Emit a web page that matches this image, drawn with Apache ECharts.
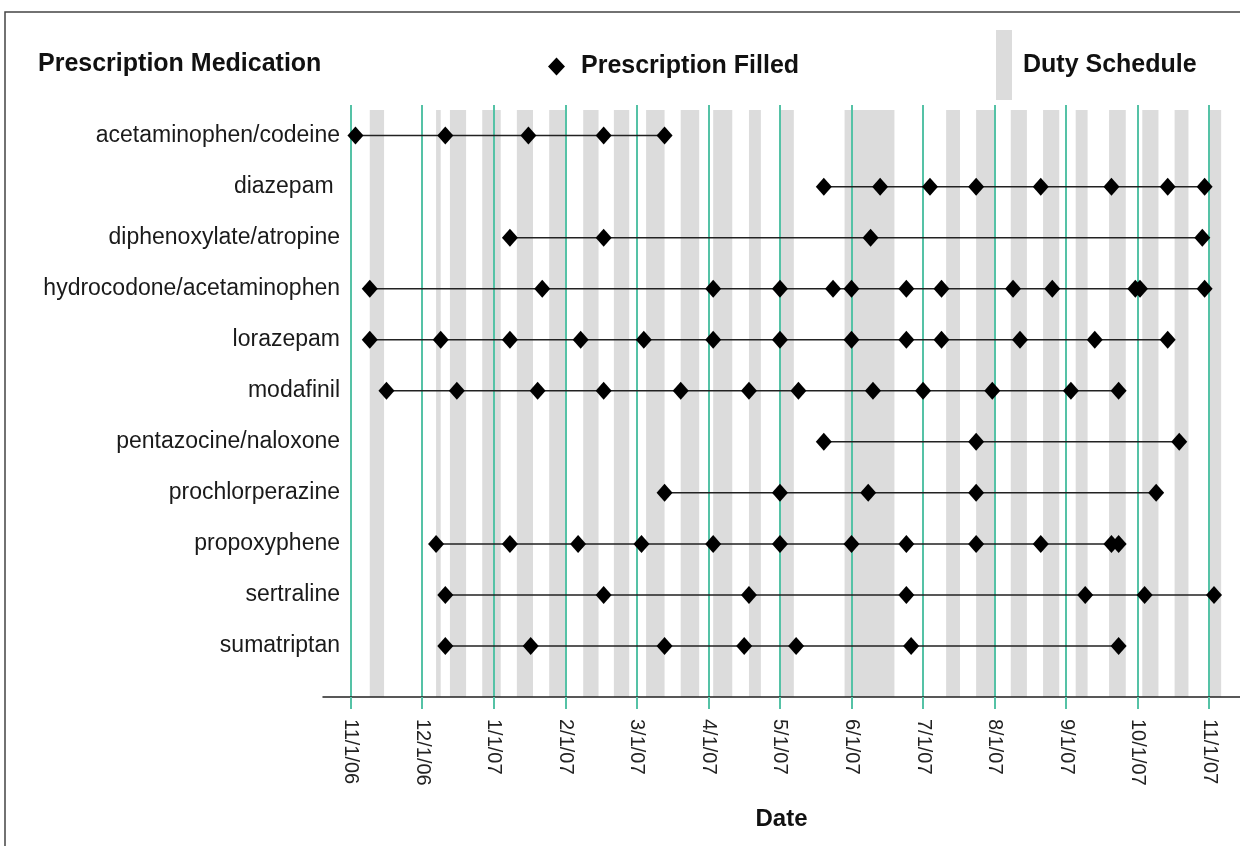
<!DOCTYPE html>
<html><head><meta charset="utf-8">
<script src="https://cdn.jsdelivr.net/npm/echarts@6/dist/echarts.min.js"></script>
<style>html,body{margin:0;padding:0;background:#fff}#c{width:1240px;height:846px}</style>
</head><body><div id="c"></div>
<script>
// ---- data ----
const medications = ['acetaminophen/codeine','diazepam ','diphenoxylate/atropine','hydrocodone/acetaminophen','lorazepam','modafinil','pentazocine/naloxone','prochlorperazine','propoxyphene','sertraline','sumatriptan'];
const tickLabels = ['11/1/06','12/1/06','1/1/07','2/1/07','3/1/07','4/1/07','5/1/07','6/1/07','7/1/07','8/1/07','9/1/07','10/1/07','11/1/07'];

const acetaminophenCodeine = ['2006-11-03','2006-12-11','2007-01-16','2007-02-16','2007-03-13'];
const diazepam = ['2007-05-20','2007-06-13','2007-07-04','2007-07-24','2007-08-21','2007-09-20','2007-10-14','2007-10-30'];
const diphenoxylateAtropine = ['2007-01-08','2007-02-16','2007-06-09','2007-10-29'];
const hydrocodoneAcetaminophen = ['2006-11-09','2007-01-22','2007-04-03','2007-05-01','2007-05-24','2007-06-01','2007-06-24','2007-07-09','2007-08-09','2007-08-26','2007-09-30','2007-10-02','2007-10-30'];
const lorazepam = ['2006-11-09','2006-12-09','2007-01-08','2007-02-07','2007-03-04','2007-04-03','2007-05-01','2007-06-01','2007-06-24','2007-07-09','2007-08-12','2007-09-13','2007-10-14'];
const modafinil = ['2006-11-16','2006-12-16','2007-01-20','2007-02-16','2007-03-20','2007-04-18','2007-05-09','2007-06-10','2007-07-01','2007-07-31','2007-09-03','2007-09-23'];
const pentazocineNaloxone = ['2007-05-20','2007-07-24','2007-10-19'];
const prochlorperazine = ['2007-03-13','2007-05-01','2007-06-08','2007-07-24','2007-10-09'];
const propoxyphene = ['2006-12-07','2007-01-08','2007-02-06','2007-03-03','2007-04-03','2007-05-01','2007-06-01','2007-06-24','2007-07-24','2007-08-21','2007-09-20','2007-09-23'];
const sertraline = ['2006-12-11','2007-02-16','2007-04-18','2007-06-24','2007-09-09','2007-10-04','2007-11-03'];
const sumatriptan = ['2006-12-11','2007-01-17','2007-03-13','2007-04-16','2007-05-08','2007-06-26','2007-09-23'];

const dutyStart = ['2006-11-09','2006-12-07','2006-12-13','2006-12-27','2007-01-11','2007-01-25','2007-02-08','2007-02-20','2007-03-05','2007-03-20','2007-04-03','2007-04-18','2007-05-01','2007-05-29','2007-07-11','2007-07-24','2007-08-08','2007-08-22','2007-09-05','2007-09-19','2007-10-03','2007-10-17','2007-11-01'];
const dutyEnd   = ['2006-11-15','2006-12-09','2006-12-20','2007-01-04','2007-01-18','2007-02-01','2007-02-14','2007-02-26','2007-03-13','2007-03-28','2007-04-11','2007-04-23','2007-05-07','2007-06-19','2007-07-17','2007-08-01','2007-08-15','2007-08-29','2007-09-10','2007-09-26','2007-10-10','2007-10-23','2007-11-06'];

const fills = [acetaminophenCodeine, diazepam, diphenoxylateAtropine, hydrocodoneAcetaminophen, lorazepam, modafinil, pentazocineNaloxone, prochlorperazine, propoxyphene, sertraline, sumatriptan];

// ---- scale helper: months since Nov 1, 2006 (each month equal width) ----
function toM(s){
  const p = s.split('-').map(Number);
  const dim = new Date(Date.UTC(p[0], p[1], 0)).getUTCDate();
  return (p[0]-2006)*12 + (p[1]-11) + (p[2]-1)/dim;
}

const GREEN = '#55c2a6';
const FONT = '"Liberation Sans", Arial, sans-serif';
const Y_MIN = -0.6, Y_MAX = 11;
const monthTicks = tickLabels.map((_, i) => i);
const rowTicks = medications.map((_, i) => i);

const chart = echarts.init(document.getElementById('c'), null, {renderer: 'canvas'});

const series = [{
  type: 'custom',
  name: 'Duty Schedule',
  silent: true,
  clip: true,
  z: 1,
  itemStyle: {color: '#dcdcdc'},
  encode: {x: [0, 1]},
  data: dutyStart.map((s, i) => [toM(s), toM(dutyEnd[i])]),
  renderItem: function (params, api) {
    const a = api.coord([api.value(0), -0.5]);
    const b = api.coord([api.value(1), Y_MAX]);
    return {
      type: 'rect',
      shape: {x: a[0], y: Math.min(a[1], b[1]), width: b[0] - a[0], height: Math.abs(b[1] - a[1])},
      style: {fill: '#dcdcdc'}
    };
  }
}];

fills.forEach((dates, i) => {
  series.push({
    type: 'line',
    name: 'Prescription Filled',
    z: 5,
    silent: true,
    symbol: 'diamond',
    symbolSize: [16, 18],
    showAllSymbol: true,
    itemStyle: {color: '#000'},
    lineStyle: {color: '#222', width: 1.5},
    data: dates.map(d => [toM(d), i])
  });
});

const headStyle = {fontSize: 25, fontWeight: 'bold', color: '#111', fontFamily: FONT};

chart.setOption({
  animation: false,
  backgroundColor: '#fff',
  textStyle: {fontFamily: FONT},
  title: {
    text: 'Prescription Medication', left: 38, top: 50, padding: 0,
    textStyle: Object.assign({lineHeight: 28}, headStyle)
  },
  legend: [{
    data: [{name: 'Prescription Filled', icon: 'diamond'}],
    left: 548, top: 54, padding: 0, itemWidth: 17, itemHeight: 18, selectedMode: false,
    textStyle: Object.assign({padding: [0, 0, 0, 11]}, headStyle)
  }, {
    data: [{name: 'Duty Schedule', icon: 'rect'}],
    left: 996, top: 30, padding: 0, itemWidth: 16, itemHeight: 70, selectedMode: false,
    textStyle: Object.assign({padding: [0, 0, 0, 6]}, headStyle)
  }],
  grid: {left: 323, right: 0, top: 105, bottom: 149, containLabel: false},
  xAxis: {
    type: 'value', min: -0.387, max: 12.43, z: 3,
    axisLine: {show: true, onZero: false, lineStyle: {color: '#222', width: 1.5}},
    axisTick: {show: true, customValues: monthTicks, length: 12, lineStyle: {color: GREEN, width: 2}},
    splitLine: {show: true, lineStyle: {color: GREEN, width: 2}},
    axisLabel: {
      customValues: monthTicks, rotate: -90, margin: 22, fontSize: 20, color: '#222', fontFamily: FONT,
      formatter: v => tickLabels[Math.round(v)]
    },
    name: 'Date', nameLocation: 'middle', nameGap: 110,
    nameTextStyle: {fontSize: 24, fontWeight: 'bold', color: '#111', fontFamily: FONT}
  },
  yAxis: {
    type: 'value', inverse: true, min: Y_MIN, max: Y_MAX, offset: -17,
    axisLine: {show: false, onZero: false}, axisTick: {show: false}, splitLine: {show: false},
    axisLabel: {
      customValues: rowTicks, margin: 0, fontSize: 23, color: '#1a1a1a', fontFamily: FONT,
      padding: [0, 0, 6, 0],
      formatter: v => medications[Math.round(v)]
    }
  },
  graphic: [{
    type: 'rect', silent: true, z: -1,
    shape: {x: 5, y: 12, width: 1400, height: 1000},
    style: {fill: 'none', stroke: '#444', lineWidth: 1.5}
  }],
  series: series
});
</script>
</body></html>
